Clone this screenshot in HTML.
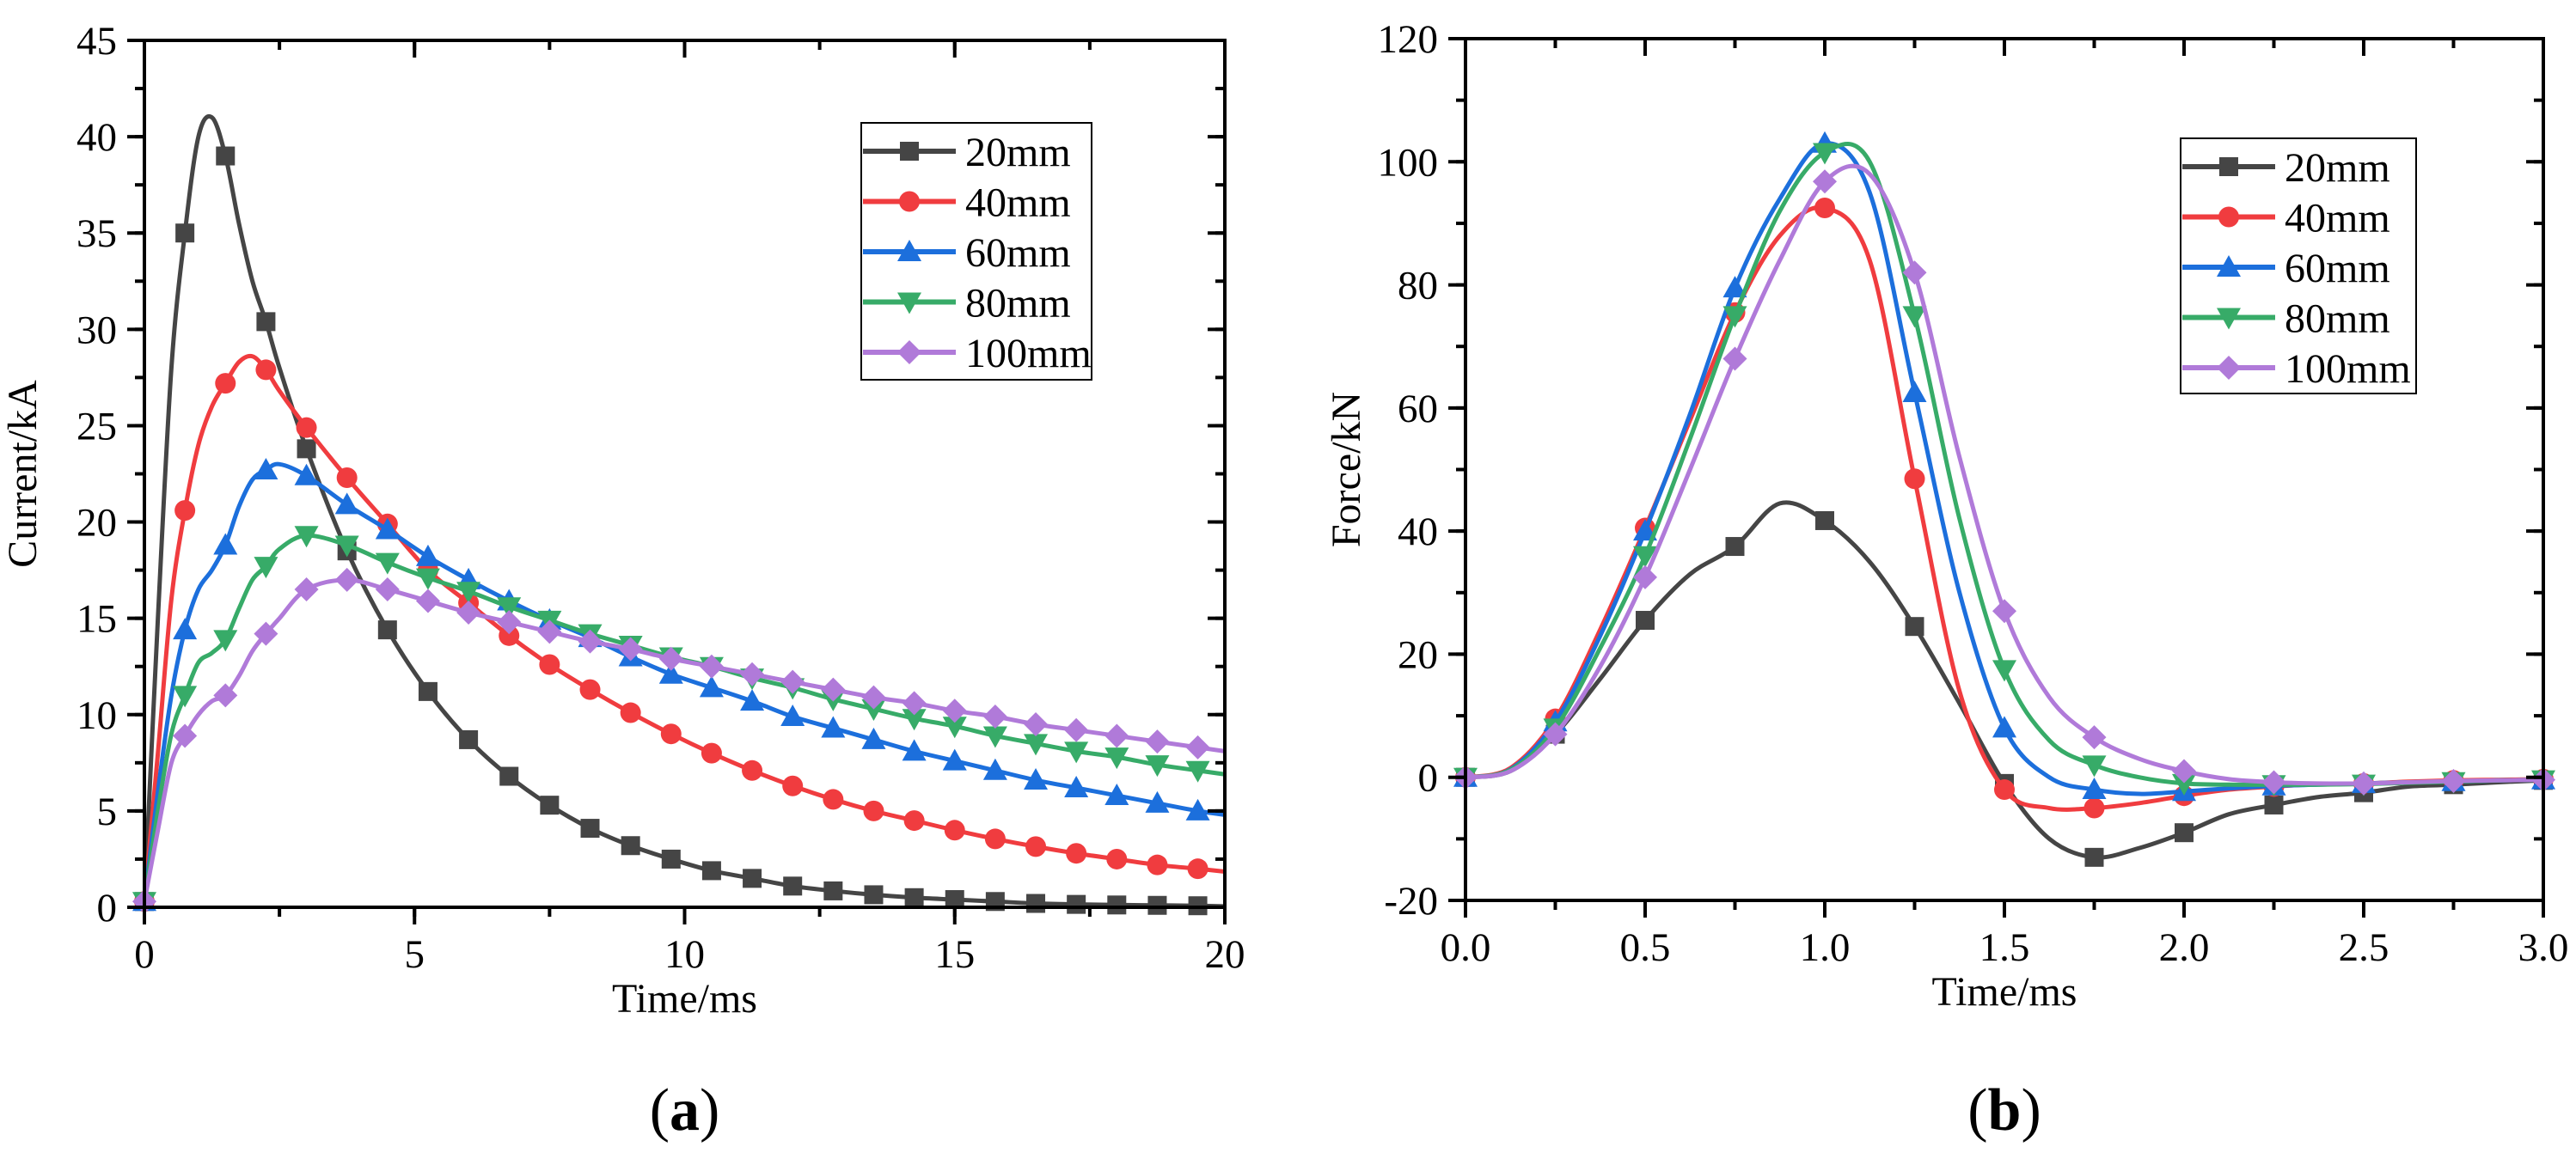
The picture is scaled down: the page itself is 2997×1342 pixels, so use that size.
<!DOCTYPE html>
<html><head><meta charset="utf-8"><style>
html,body{margin:0;padding:0;background:#fff;}
svg{display:block;font-family:"Liberation Serif","Times New Roman",serif;}
text{font-family:"Liberation Serif","Times New Roman",serif;}
</style></head><body>
<svg id="fig" width="2997" height="1342" viewBox="0 0 2997 1342" xmlns="http://www.w3.org/2000/svg"></svg>
<script>
// ---------- Panel (a) data: current vs time ----------
const tA = [0,0.25,0.5,0.75,1,1.25,1.5,1.75,2,2.25,2.5,3,3.75,4.5,5.25,6,6.75,7.5,8.25,9,9.75,10.5,11.25,12,12.75,13.5,14.25,15,15.75,16.5,17.25,18,18.75,19.5,20];
const a20 = [0.3,15,28,35,40,41,39,35.5,32.5,30.4,28,23.8,18.5,14.4,11.2,8.7,6.8,5.3,4.1,3.2,2.5,1.9,1.5,1.1,0.85,0.65,0.5,0.4,0.3,0.2,0.15,0.12,0.1,0.08,0.05];
const a40 = [0.3,8,16,20.6,24,26,27.2,28.3,28.6,27.9,26.8,24.9,22.3,19.9,17.5,15.8,14.1,12.6,11.3,10.1,9.0,8.0,7.1,6.3,5.6,5.0,4.5,4.0,3.55,3.15,2.8,2.5,2.2,2.0,1.85];
const a60 = [0.3,6,11,14.4,16.5,17.5,18.8,20.8,22.2,22.7,23,22.4,20.9,19.6,18.2,17.0,15.9,14.9,14.0,13.0,12.1,11.4,10.7,9.9,9.3,8.7,8.1,7.6,7.1,6.6,6.2,5.8,5.4,5.0,4.8];
const a80 = [0.3,5,9,11,12.7,13.2,13.9,15.5,17,17.7,18.6,19.3,18.8,17.9,17.1,16.4,15.6,14.9,14.2,13.6,13.0,12.5,11.9,11.4,10.8,10.3,9.8,9.4,8.9,8.5,8.1,7.8,7.4,7.1,6.9];
const a100 = [0.3,4,7.5,8.9,10,10.7,11,12,13.3,14.2,15,16.5,17.0,16.5,15.9,15.3,14.8,14.3,13.8,13.4,12.9,12.5,12.1,11.7,11.3,10.9,10.6,10.2,9.9,9.5,9.2,8.9,8.6,8.3,8.1];
const xTicksA = [0,5,10,15,20];
const yTicksA = [0,5,10,15,20,25,30,35,40,45];
// ---------- Panel (b) data: force vs time ----------
const tB = [0,0.125,0.25,0.375,0.5,0.625,0.75,0.875,1,1.125,1.25,1.375,1.5,1.625,1.75,1.875,2,2.125,2.25,2.375,2.5,2.625,2.75,2.875,3];
const b20 = [0,1,7,16,25.5,33,37.5,44.5,41.7,35,24.5,12,-1,-10,-13,-11.5,-9,-6,-4.5,-3.2,-2.5,-1.5,-1.2,-0.8,-0.5];
const b40 = [0,1.5,9.5,24,40.5,58,75.5,88,92.5,84,48.5,14,-2,-5,-5,-4.2,-3,-2,-1.5,-1.1,-1,-0.7,-0.5,-0.4,-0.3];
const b60 = [0,1.3,9,23,40,59,79.5,94,103,95,62.5,30,8,0,-2,-2.7,-2.3,-1.8,-1.4,-1.2,-1,-0.8,-0.7,-0.5,-0.4];
const b80 = [0,1.2,8,21,36,55,75,92,101.5,100,75,42,17.5,6,2,0,-1,-1.2,-1.2,-1.2,-1.1,-0.9,-0.7,-0.5,-0.4];
const b100 = [0,1,7,18,32.5,50,68,84,96.8,98,82,52,27,13,6.5,3,1,-0.3,-0.8,-1,-1,-0.8,-0.6,-0.5,-0.4];
const xTicksB = [0,0.5,1,1.5,2,2.5,3];
const xTickLabelsB = ["0.0","0.5","1.0","1.5","2.0","2.5","3.0"];
const yTicksB = [-20,0,20,40,60,80,100,120];
const seriesNames = ["20mm","40mm","60mm","80mm","100mm"];

const colors = ["#454545","#f03c3f","#1c6fdc","#37ab68","#b07ad9"];
const markers = ["square","circle","up","down","diamond"];
const FONT = '"Liberation Serif","Times New Roman",serif';
const NS = "http://www.w3.org/2000/svg";
const svg = document.getElementById('fig');
function el(tag, attrs, parent){const e=document.createElementNS(NS,tag);for(const k in attrs)e.setAttribute(k,attrs[k]);if(tag==='text')e.setAttribute('font-family',FONT);(parent||svg).appendChild(e);return e;}
function smooth(pts){
  let d="M"+pts[0][0]+","+pts[0][1];
  for(let i=0;i<pts.length-1;i++){
    const p0=pts[i-1]||pts[i],p1=pts[i],p2=pts[i+1],p3=pts[i+2]||p2;
    const c1=[p1[0]+(p2[0]-p0[0])/6,p1[1]+(p2[1]-p0[1])/6];
    const c2=[p2[0]-(p3[0]-p1[0])/6,p2[1]-(p3[1]-p1[1])/6];
    d+=" C"+c1[0]+","+c1[1]+" "+c2[0]+","+c2[1]+" "+p2[0]+","+p2[1];
  }
  return d;
}
function marker(g,type,x,y,c){
  const s=11;let m;
  if(type==="square") m=el('rect',{x:x-s,y:y-s,width:2*s,height:2*s,fill:c},g);
  else if(type==="circle") m=el('circle',{cx:x,cy:y,r:s+1,fill:c},g);
  else if(type==="up") m=el('polygon',{points:`${x},${y-s-3} ${x+s+3},${y+s} ${x-s-3},${y+s}`,fill:c},g);
  else if(type==="down") m=el('polygon',{points:`${x-s-3},${y-s} ${x+s+3},${y-s} ${x},${y+s+3}`,fill:c},g);
  else m=el('polygon',{points:`${x},${y-s-3} ${x+s+3},${y} ${x},${y+s+3} ${x-s-3},${y}`,fill:c},g);
  return m;
}
function panel(cfg){
  const {L,R,T,B,xmin,xmax,ymin,ymax}=cfg;
  const X=v=>L+(v-xmin)/(xmax-xmin)*(R-L);
  const Y=v=>B-(v-ymin)/(ymax-ymin)*(B-T);
  const g=el('g',{});  
  cfg.series.forEach((vals,si)=>{
    const sg=el('g',{},g);
    
    
    const pts=cfg.t.map((t,i)=>[X(t),Y(vals[i])]);
    el('path',{d:smooth(pts),fill:'none',stroke:colors[si],'stroke-width':5,'stroke-linejoin':'round'},sg);
    cfg.t.forEach((t,i)=>{
      const r=t/cfg.mstep;
      if(Math.abs(r-Math.round(r))<1e-6){
        const m=marker(sg,markers[si],X(t),Y(vals[i]),colors[si]);
        
        
      }
    });
  });
  const ax=el('g',{},g);  
  el('rect',{x:L,y:T,width:R-L,height:B-T,fill:'none',stroke:'#000','stroke-width':4},ax);
  for(let v=xmin;v<=xmax+1e-9;v+=cfg.xminor){
    const x=X(v);
    el('line',{x1:x,y1:B,x2:x,y2:B+11,stroke:'#000','stroke-width':4},ax);
    el('line',{x1:x,y1:T,x2:x,y2:T+11,stroke:'#000','stroke-width':4},ax);
  }
  for(let v=ymin;v<=ymax+1e-9;v+=cfg.yminor){
    const y=Y(v);
    el('line',{x1:L-11,y1:y,x2:L,y2:y,stroke:'#000','stroke-width':4},ax);
    el('line',{x1:R-11,y1:y,x2:R,y2:y,stroke:'#000','stroke-width':4},ax);
  }
  cfg.xticks.forEach((v,i)=>{
    const x=X(v);
    el('line',{x1:x,y1:B,x2:x,y2:B+20,stroke:'#000','stroke-width':4},ax);
    el('line',{x1:x,y1:T,x2:x,y2:T+20,stroke:'#000','stroke-width':4},ax);
    const t=el('text',{x:x,y:B+70,'font-size':47,'text-anchor':'middle'},ax);
    t.textContent=cfg.xlabels?cfg.xlabels[i]:String(v);
     
  });
  cfg.yticks.forEach(v=>{
    const y=Y(v);
    el('line',{x1:L-20,y1:y,x2:L,y2:y,stroke:'#000','stroke-width':4},ax);
    el('line',{x1:R-20,y1:y,x2:R,y2:y,stroke:'#000','stroke-width':4},ax);
    const t=el('text',{x:L-32,y:y+16,'font-size':47,'text-anchor':'end'},ax);
    t.textContent=String(v);
     
  });
  const xt=el('text',{x:(L+R)/2,y:B+122,'font-size':48,'text-anchor':'middle'},g);
  xt.textContent='Time/ms';  
  const yt=el('text',{x:0,y:0,'font-size':48,'text-anchor':'middle',transform:`translate(${cfg.ytx},${(T+B)/2}) rotate(-90)`},g);
  yt.textContent=cfg.ytitle;  
  const lg=el('g',{},g);  
  el('rect',{x:cfg.lx,y:cfg.ly,width:cfg.lw,height:cfg.lh,fill:'#fff',stroke:'#000','stroke-width':2},lg);
  seriesNames.forEach((n,i)=>{
    const e=el('g',{},lg);  
    const y=cfg.ly+33+i*58.5;
    el('line',{x1:cfg.lx+2,y1:y,x2:cfg.lx+110,y2:y,stroke:colors[i],'stroke-width':6},e);
    marker(e,markers[i],cfg.lx+56,y,colors[i]);
    const t=el('text',{x:cfg.lx+121,y:y+17,'font-size':48},e); t.textContent=n;
  });
  const cap=el('text',{x:(L+R)/2,y:1315,'font-size':70,'text-anchor':'middle'},g);
  const p1=el('tspan',{},cap); p1.textContent='(';
  const p2=el('tspan',{'font-weight':'bold'},cap); p2.textContent=cfg.caption;
  const p3=el('tspan',{},cap); p3.textContent=')';
   
}
panel({name:'current-chart',L:168,R:1425,T:47,B:1056,xmin:0,xmax:20,ymin:0,ymax:45,xminor:2.5,yminor:2.5,
  xticks:xTicksA,yticks:yTicksA,t:tA,series:[a20,a40,a60,a80,a100],mstep:0.75,ytitle:'Current/kA',ytx:42,
  lx:1002,ly:143,lw:268,lh:299,caption:'a'});
panel({name:'force-chart',L:1705,R:2959,T:45,B:1048,xmin:0,xmax:3,ymin:-20,ymax:120,xminor:0.25,yminor:10,
  xticks:xTicksB,xlabels:xTickLabelsB,yticks:yTicksB,t:tB,series:[b20,b40,b60,b80,b100],mstep:0.25,ytitle:'Force/kN',ytx:1582,
  lx:2537,ly:161,lw:274,lh:297,caption:'b'});
</script>
</body></html>
